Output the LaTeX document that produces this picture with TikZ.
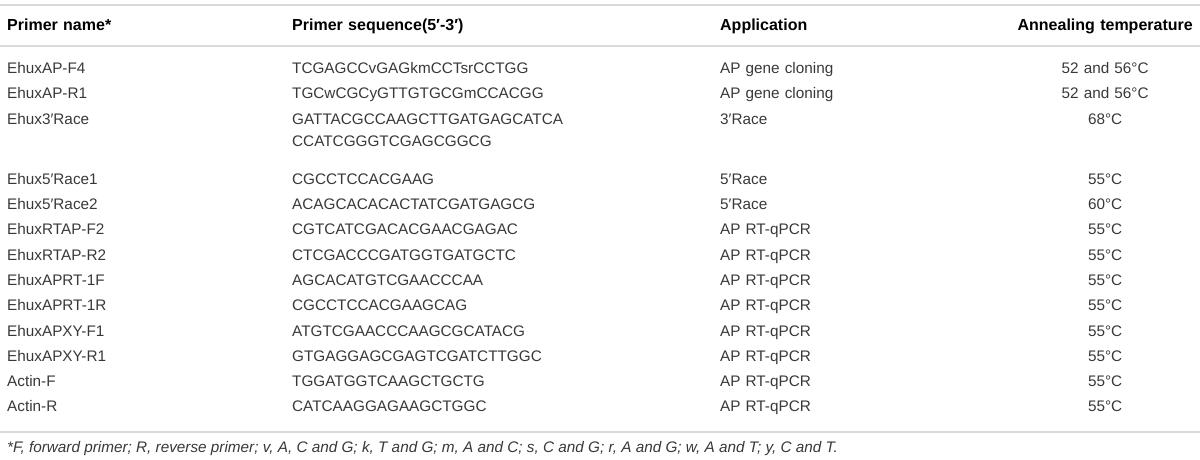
\documentclass[tikz,border=0pt]{standalone}
\usepackage{fontspec}
\setmainfont{Liberation Sans}
\usetikzlibrary{matrix}

\begin{document}
\begin{tikzpicture}[x=1pt, y=1pt,
  cell/.style={inner sep=0pt, text height=11pt, text depth=3.5pt,
    font=\fontsize{15.3}{18}\selectfont, text=black!78},
  %
  head/.style={cell, font=\fontsize{16}{19}\selectfont\bfseries, text=black},
  %
  rule/.style={draw=black!15, line width=1.5pt},
  %
  note/.style={inner sep=0pt, anchor=base west,
    font=\fontsize{15.3}{18}\selectfont\itshape, text=black!78}
  ]

  \useasboundingbox (0,0) rectangle (1200,-459);

  \begin{scope}
    \matrix [matrix of nodes, anchor=north west, inner sep=0pt, row sep=10.8pt,
    column sep=0pt, nodes={cell}, row 1/.style={nodes={head}},
    column 1/.style={nodes={text width=285pt, align=left}},
    column 2/.style={nodes={text width=428pt, align=left}},
    column 3/.style={nodes={text width=295pt, align=left}},
    column 4/.style={nodes={text width=180pt, align=center}}] (primers) at (7,-19.4) {
    %%%%%%%%%%%%%%%%%%%%%%%%%%%%%%%
    Primer name* & Primer sequence(5′-3′) & Application & Annealing temperature \\[17.7pt]
    %%%%%%%%%%%%%%%%%%%%%%%%%%%%%%%
    EhuxAP-F4 & TCGAGCCvGAGkmCCTsrCCTGG & AP gene cloning & 52 and 56°C \\
    EhuxAP-R1 & TGCwCGCyGTTGTGCGmCCACGG & AP gene cloning & 52 and 56°C \\
    Ehux3′Race & GATTACGCCAAGCTTGATGAGCATCA & 3′Race & 68°C \\[-3.3pt]
    & CCATCGGGTCGAGCGGCG & & \\[12.7pt]
    %%%%%%%%%%%%%%%%%%%%%%%%%%%%%%%
    Ehux5′Race1 & CGCCTCCACGAAG & 5′Race & 55°C \\
    Ehux5′Race2 & ACAGCACACACTATCGATGAGCG & 5′Race & 60°C \\
    EhuxRTAP-F2 & CGTCATCGACACGAACGAGAC & AP RT-qPCR & 55°C \\
    EhuxRTAP-R2 & CTCGACCCGATGGTGATGCTC & AP RT-qPCR & 55°C \\
    EhuxAPRT-1F & AGCACATGTCGAACCCAA & AP RT-qPCR & 55°C \\
    EhuxAPRT-1R & CGCCTCCACGAAGCAG & AP RT-qPCR & 55°C \\
    EhuxAPXY-F1 & ATGTCGAACCCAAGCGCATACG & AP RT-qPCR & 55°C \\
    EhuxAPXY-R1 & GTGAGGAGCGAGTCGATCTTGGC & AP RT-qPCR & 55°C \\
    Actin-F & TGGATGGTCAAGCTGCTG & AP RT-qPCR & 55°C \\
    Actin-R & CATCAAGGAGAAGCTGGC & AP RT-qPCR & 55°C \\
  };
  \end{scope}

  \begin{scope}
    \draw [rule] (0,-5) -- (1200,-5);
    \draw [rule] (0,-46) -- (1200,-46);
    \draw [rule] (0,-432) -- (1200,-432);
    \node [note] (footnote) at (7,-452) {*F, forward primer; R, reverse primer;
      v, A, C and G; k, T and G; m, A and C; s, C and G; r, A and G; w, A and T;
      y, C and T.};
  \end{scope}

\end{tikzpicture}
\end{document}
